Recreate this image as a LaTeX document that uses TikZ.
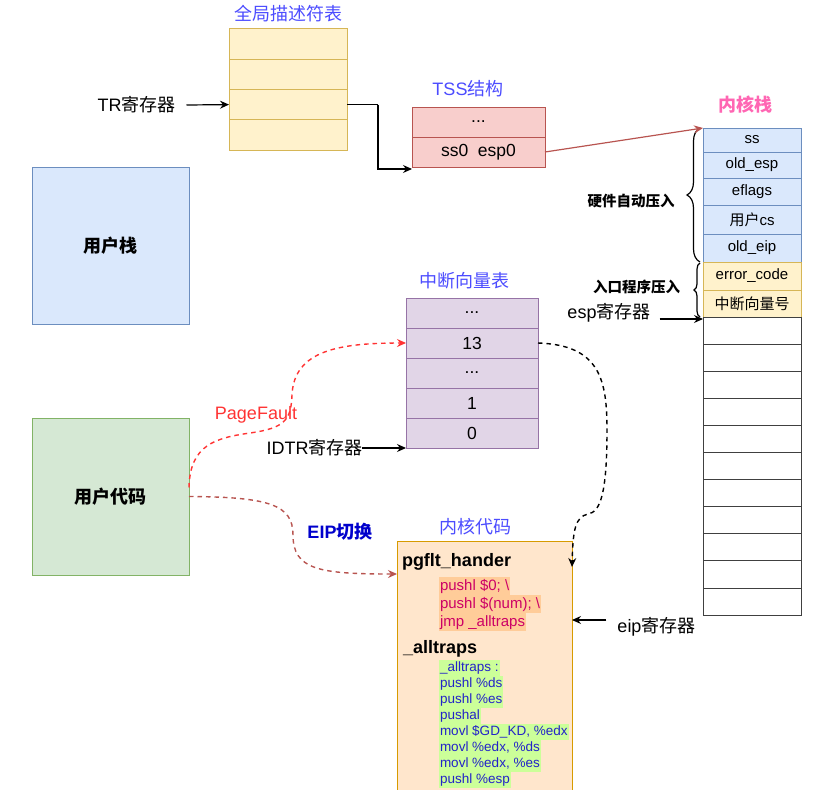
\documentclass[tikz,border=0pt]{standalone}
\usepackage{fontspec}
\setmainfont{Liberation Sans}
\newfontfamily\cjk{Noto Sans CJK SC}
\usetikzlibrary{arrows.meta,decorations.pathreplacing,calc}
\definecolor{titleblue}{HTML}{4C4CFF}
\definecolor{stackpink}{HTML}{FF66B3}
\definecolor{pfred}{HTML}{FF3333}
\definecolor{eipblue}{HTML}{0000CC}
\definecolor{codered}{HTML}{CC0066}
\definecolor{codeblue}{HTML}{2323C8}
\definecolor{gdtfill}{HTML}{FFF2CC}
\definecolor{gdtdraw}{HTML}{D6B656}
\definecolor{tssfill}{HTML}{F8CECC}
\definecolor{tssdraw}{HTML}{B85450}
\definecolor{bluefill}{HTML}{DAE8FC}
\definecolor{bluedraw}{HTML}{6C8EBF}
\definecolor{greenfill}{HTML}{D5E8D4}
\definecolor{greendraw}{HTML}{82B366}
\definecolor{idtfill}{HTML}{E1D5E7}
\definecolor{idtdraw}{HTML}{9673A6}
\definecolor{kcfill}{HTML}{FFE6CC}
\definecolor{kcdraw}{HTML}{D79B00}
\definecolor{hlred}{HTML}{FFCC99}
\definecolor{hlgreen}{HTML}{CCFF99}
\begin{document}
\begin{tikzpicture}[x=1pt,y=-1pt,
  every node/.style={inner sep=0pt,outer sep=0pt},
  lbl/.style={font=\fontsize{18}{20}\selectfont,text=black},
  ttl/.style={font=\fontsize{18}{20}\selectfont,text=titleblue},
  gdtcell/.style={draw=gdtdraw,fill=gdtfill,minimum width=118,minimum height=30.25,line width=1pt},
  tsscell/.style={draw=tssdraw,fill=tssfill,minimum width=133,minimum height=30,line width=1pt,font=\fontsize{17.5}{19}\selectfont},
  idtcell/.style={draw=idtdraw,fill=idtfill,minimum width=132,minimum height=30,line width=1pt,font=\fontsize{17.5}{19}\selectfont},
  kblue/.style={draw=bluedraw,fill=bluefill,minimum width=98,line width=1pt,font=\fontsize{15}{17}\selectfont},
  kyellow/.style={draw=gdtdraw,fill=gdtfill,minimum width=98,line width=1pt,font=\fontsize{15}{17}\selectfont},
  kempty/.style={draw=black!75,fill=white,minimum width=98,minimum height=27.1,line width=1pt},
  bigbox/.style={minimum width=157,minimum height=157,line width=1pt,font=\bfseries\fontsize{18}{20}\selectfont},
  arr/.style={-{Stealth[length=9pt,width=8pt,inset=3pt]},line width=1.2pt},
  dsh/.style={dash pattern=on 4.5pt off 4pt,line width=1.4pt},
  redline/.style={anchor=west,fill=hlred,text=codered,font=\fontsize{15}{17}\selectfont,text height=12.5,text depth=4,inner ysep=0.75,inner xsep=1},
  blueline/.style={anchor=west,fill=hlgreen,text=codeblue,font=\fontsize{13.5}{15}\selectfont,text height=10.5,text depth=3.5,inner ysep=1,inner xsep=1},
  bracelbl/.style={font=\bfseries\fontsize{14.5}{16}\selectfont}
]
\useasboundingbox (0,0) rectangle (823,790);

% ---------- GDT ----------
\node[ttl] (gdttitle) at (288,14) {{\cjk 全局描述符表}};
\node[gdtcell] (g1) at (288,44.1) {};
\node[gdtcell] (g2) at (288,74.4) {};
\node[gdtcell] (g3) at (288,104.6) {};
\node[gdtcell] (g4) at (288,134.9) {};
\node[lbl] (trl) at (136.5,105) {TR{\cjk 寄存器}};
\draw[arr] ($(trl.east)+(11,0)$) -- (g3.west);

% ---------- TSS ----------
\node[ttl] (tsstitle) at (468,89) {TSS{\cjk 结构}};
\node[tsscell] (tss1) at (478.5,122) {...};
\node[tsscell] (tss2) at (478.5,152) {ss0~ esp0};
\draw[line width=1.2pt] (g3.east) -- ++(31,0) coordinate (gbend);
\draw[arr] (gbend) |- ($(tss2.south west)+(0,2)$);

% ---------- user stack / user code ----------
\node[bigbox,draw=bluedraw,fill=bluefill] (ustack) at (110.5,245.5) {{\cjk 用户栈}};
\node[bigbox,draw=greendraw,fill=greenfill] (ucode) at (110.5,496.5) {{\cjk 用户代码}};

% ---------- kernel stack ----------
\node[font=\bfseries\fontsize{18}{20}\selectfont,text=stackpink] (kstitle) at (745,105) {{\cjk 内核栈}};
\node[kblue,minimum height=24] (ks1) at (752,140) {ss};
\node[kblue,minimum height=26] (ks2) at (752,165) {old\_esp};
\node[kblue,minimum height=27] (ks3) at (752,191.5) {eflags};
\node[kblue,minimum height=29] (ks4) at (752,219.5) {{\cjk 用户}cs};
\node[kblue,minimum height=28] (ks5) at (752,248) {old\_eip};
\node[kyellow,minimum height=28] (ks6) at (752,276) {error\_code};
\node[kyellow,minimum height=27] (ks7) at (752,303.5) {{\cjk 中断向量号}};
\foreach \i in {0,...,10}{
  \node[kempty] (ke\i) at (752,{330.55+27.1*\i}) {};
}
\draw[line width=1.2pt,decorate,decoration={brace,amplitude=13pt}] (700,262) -- (700,128);
\draw[line width=1.2pt,decorate,decoration={brace,amplitude=6pt}] (700,317) -- (700,263);
\node[bracelbl] (hwl) at (631,201) {{\cjk 硬件自动压入}};
\node[bracelbl] (entl) at (636.5,287) {{\cjk 入口程序压入}};
\node[lbl] (espl) at (609,313) {esp{\cjk 寄存器}};
\draw[arr] ($(espl.east)+(9,6)$) -- ($(ke0.north west)+(0,2)$);

% TSS -> kernel stack
\draw[arr,draw=tssdraw] (tss2.east) -- (ks1.north west);

% ---------- IDT ----------
\node[ttl] (idttitle) at (464,281) {{\cjk 中断向量表}};
\node[idtcell] (i4) at (472,313) {...};
\node[idtcell] (i13) at (472,343) {13};
\node[idtcell] (idots) at (472,373) {...};
\node[idtcell] (i1) at (472,403) {1};
\node[idtcell] (i0) at (472,433) {0};
\node[lbl] (idtrl) at (314.5,448) {IDTR{\cjk 寄存器}};
\draw[arr] (idtrl.east) -- (i0.south west);

% ---------- kernel code ----------
\node[ttl] (kctitle) at (475,527) {{\cjk 内核代码}};
\node[draw=kcdraw,fill=kcfill,line width=1pt,minimum width=175,minimum height=259,anchor=north west] (kc) at (397,541) {};
\node[anchor=west,font=\bfseries\fontsize{18}{20}\selectfont] (pgf) at (402,562) {pgflt\_hander};
\node[redline] (r1) at (439,586) {pushl \$0; \textbackslash};
\node[redline] (r2) at (439,604) {pushl \$(num); \textbackslash};
\node[redline] (r3) at (439,622) {jmp \_alltraps\hspace{4pt}};
\node[anchor=west,font=\bfseries\fontsize{18}{20}\selectfont] (allt) at (403,649) {\_alltraps};
\node[blueline] (b1) at (439,668) {\_alltraps :};
\node[blueline] (b2) at (439,684) {pushl \%ds};
\node[blueline] (b3) at (439,700) {pushl \%es};
\node[blueline] (b4) at (439,716) {pushal};
\node[blueline] (b5) at (439,732) {movl \$GD\_KD, \%edx};
\node[blueline] (b6) at (439,748) {movl \%edx, \%ds};
\node[blueline] (b7) at (439,764) {movl \%edx, \%es};
\node[blueline] (b8) at (439,780) {pushl \%esp};
\node[lbl] (eipl) at (656.5,627) {eip{\cjk 寄存器}};
\draw[arr] ($(eipl.west)+(-11,-7)$) -- (kc.east |- 0,620);

% ---------- curved connectors ----------
\draw[arr,dsh,draw=pfred] ($(ucode.east)+(0,-9)$) .. controls (190,445) and (215,438) .. (250,433)
   .. controls (285,428) and (291,420) .. (292,395)
   .. controls (294,350) and (340,343) .. (i13.west);
\node[font=\fontsize{18}{20}\selectfont,text=pfred] (pfl) at (256,415) {PageFault};

\draw[arr,dsh,draw=tssdraw] (ucode.east) .. controls (270,497) and (293,505) .. (293,535)
   .. controls (293,570) and (320,574) .. ($(kc.north west)+(0,33)$);
\node[font=\bfseries\fontsize{18}{20}\selectfont,text=eipblue] (eipsw) at (340,532) {EIP{\cjk 切换}};

\draw[arr,dsh,draw=black] (i13.east) .. controls (600,345) and (607,380) .. (607,430)
   .. controls (607,495) and (600,512) .. (588,514)
   .. controls (575,517) and (573,530) .. ($(kc.north east)+(0,26)$);
\end{tikzpicture}
\end{document}
